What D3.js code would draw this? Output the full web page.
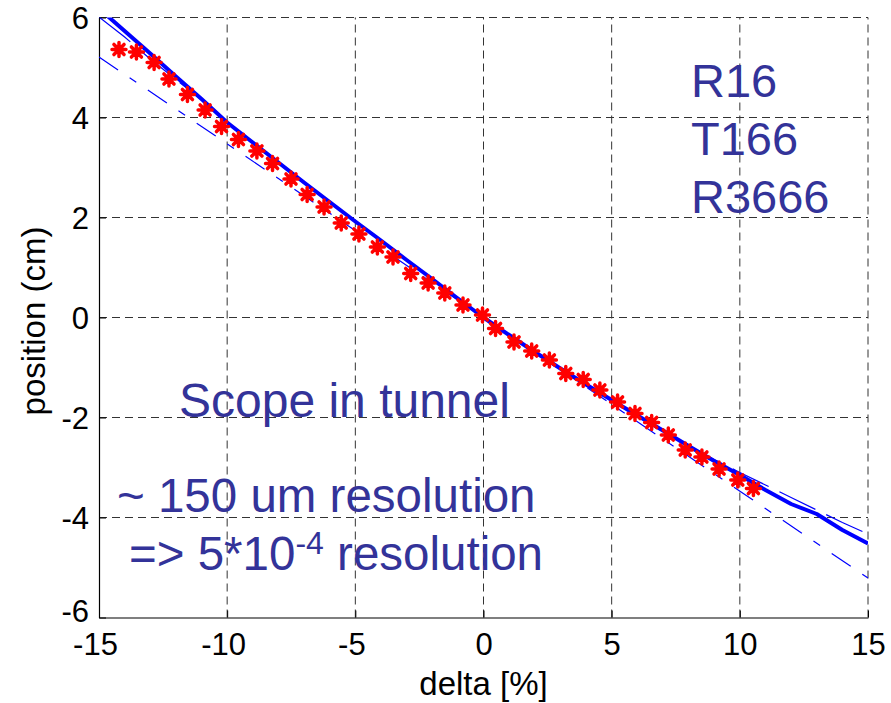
<!DOCTYPE html>
<html>
<head>
<meta charset="utf-8">
<script src="https://cdn.jsdelivr.net/npm/d3@7"></script>
<style>
  html, body { margin: 0; padding: 0; background: #fff; }
  svg text { font-family: Arial, "Liberation Sans", sans-serif; }
</style>
</head>
<body>
<svg id="chart" width="891" height="703"></svg>
<script>
// Measured beam position on the scope versus momentum offset
const deltaMeas = [-14.22,-13.54,-12.85,-12.27,-11.55,-10.86,-10.22,-9.56,-8.84,-8.23,-7.51,-6.88,-6.22,-5.55,-4.86,-4.14,-3.53,-2.84,-2.16,-1.51,-0.80,-0.04,0.47,1.19,1.88,2.57,3.21,3.89,4.54,5.23,5.91,6.56,7.21,7.87,8.52,9.19,9.92,10.53];
const posMeas   = [5.36,5.31,5.10,4.77,4.46,4.15,3.82,3.56,3.33,3.08,2.77,2.46,2.21,1.89,1.67,1.41,1.21,0.88,0.69,0.49,0.25,0.05,-0.22,-0.49,-0.67,-0.85,-1.12,-1.24,-1.45,-1.69,-1.92,-2.10,-2.35,-2.65,-2.79,-3.03,-3.25,-3.42];

// Model curves sampled on a common delta grid
const deltaGrid = [-15,-14,-13,-12,-11,-10,-9,-8,-7,-6,-5,-4,-3,-2,-1,0,1,2,3,4,5,6,7,8,9,10,11,12,13,14,15];
const posModel  = [6.18,5.73,5.28,4.82,4.37,3.90,3.50,3.10,2.70,2.31,1.92,1.54,1.15,0.77,0.38,0,-0.35,-0.69,-1.02,-1.34,-1.65,-1.96,-2.26,-2.57,-2.87,-3.15,-3.45,-3.73,-3.93,-4.25,-4.52];
const posModel2 = [6.01,5.61,5.17,4.76,4.35,3.90,3.49,3.09,2.69,2.30,1.91,1.53,1.14,0.76,0.37,0,-0.36,-0.70,-1.03,-1.35,-1.67,-1.97,-2.27,-2.56,-2.84,-3.10,-3.35,-3.60,-3.85,-4.10,-4.33];

// Linear dispersion line
const deltaLin = [-15, 15];
const posLin   = [5.21, -5.21];

const xTicks = [-15,-10,-5,0,5,10,15];
const yTicks = [-6,-4,-2,0,2,4,6];

const notesRight = ["R16", "T166", "R3666"];
const noteScope = "Scope in tunnel";
const noteRes1 = "~ 150 um resolution";

const svg = d3.select("#chart");
const x = d3.scaleLinear().domain([-15, 15]).range([99, 868]);
const y = d3.scaleLinear().domain([-6, 6]).range([617.5, 17.5]);

svg.append("rect").attr("width", 891).attr("height", 703).attr("fill", "#fff");

svg.append("clipPath").attr("id", "plotclip")
  .append("rect").attr("x", x(-15)).attr("y", y(6))
  .attr("width", x(15) - x(-15)).attr("height", y(-6) - y(6));

// grid
const grid = svg.append("g");
grid.selectAll("line.gx").data(xTicks.slice(1)).join("line")
  .attr("x1", d => x(d)).attr("x2", d => x(d))
  .attr("y1", y(-6)).attr("y2", y(6))
  .attr("stroke", "#333").attr("stroke-width", 1).attr("stroke-dasharray", "8,5");
grid.selectAll("line.gy").data(yTicks.slice(1)).join("line")
  .attr("y1", d => y(d)).attr("y2", d => y(d))
  .attr("x1", x(-15)).attr("x2", x(15))
  .attr("stroke", "#333").attr("stroke-width", 1).attr("stroke-dasharray", "8,5");

// axes
const xAxis = d3.axisBottom(x).tickValues(xTicks).tickSizeInner(-7).tickSizeOuter(0)
  .tickFormat(d => d).tickPadding(15);
const yAxis = d3.axisLeft(y).tickValues(yTicks).tickSizeInner(-7).tickSizeOuter(0)
  .tickFormat(d => d).tickPadding(10);

const gx = svg.append("g").attr("transform", `translate(0,${y(-6)})`).call(xAxis);
const gy = svg.append("g").attr("transform", `translate(${x(-15)},0)`).call(yAxis);
[gx, gy].forEach(g => {
  g.select(".domain").attr("stroke", "#000").attr("stroke-width", 1.2);
  g.selectAll(".tick line").attr("stroke", "#000");
  g.selectAll(".tick text").attr("fill", "#000")
    .style("font-family", "Arial, 'Liberation Sans', sans-serif").style("font-size", "31px");
});
gx.selectAll(".tick text").attr("dy", "0.71em").attr("dx", d => d < 0 ? -4 : 0);
gy.selectAll(".tick text").attr("dy", d => d === -6 ? "0.12em" : "0.35em");

// curves
const plot = svg.append("g").attr("clip-path", "url(#plotclip)");
const line = d3.line().x(d => x(d[0])).y(d => y(d[1]));

plot.append("path")
  .datum(deltaLin.map((d, i) => [d, posLin[i]]))
  .attr("d", line).attr("fill", "none").attr("stroke", "#0000ff")
  .attr("stroke-width", 1.2).attr("stroke-dasharray", "23,14,8,14");

plot.append("path")
  .datum(deltaGrid.map((d, i) => [d, posModel2[i]]))
  .attr("d", line).attr("fill", "none").attr("stroke", "#0000ff")
  .attr("stroke-width", 1.2).attr("stroke-dasharray", "40,12");

plot.append("path")
  .datum(deltaGrid.map((d, i) => [d, posModel[i]]))
  .attr("d", line).attr("fill", "none").attr("stroke", "#0000ff")
  .attr("stroke-width", 4).attr("stroke-linejoin", "round");

// asterisk markers
const r = 7;
const star = `M${-r},0L${r},0M0,${-r}L0,${r}` +
  `M${-r*0.72},${-r*0.72}L${r*0.72},${r*0.72}M${-r*0.72},${r*0.72}L${r*0.72},${-r*0.72}`;
svg.append("g").selectAll("path").data(deltaMeas.map((d, i) => [d, posMeas[i]])).join("path")
  .attr("transform", d => `translate(${x(d[0])},${y(d[1])})`)
  .attr("d", star).attr("stroke", "#ff0000").attr("stroke-width", 3.5)
  .attr("stroke-linecap", "round").attr("fill", "none");

// axis titles
svg.append("text").attr("x", x(0)).attr("y", 695).attr("text-anchor", "middle")
  .style("font-size", "33px").attr("fill", "#000").text("delta [%]");
svg.append("text").attr("transform", `translate(45,321) rotate(-90)`)
  .attr("text-anchor", "middle").style("font-size", "33px").attr("fill", "#000")
  .text("position (cm)");

// annotations
const noteColor = "#333399";
svg.append("g").selectAll("text").data(notesRight).join("text")
  .attr("x", 691).attr("y", (d, i) => 96.5 + i * 58.3)
  .style("font-size", "47px").attr("fill", noteColor).text(d => d);

svg.append("text").attr("x", 179).attr("y", 416.5)
  .style("font-size", "48px").attr("fill", noteColor).text(noteScope);
svg.append("text").attr("x", 117).attr("y", 511.5)
  .style("font-size", "47.5px").attr("fill", noteColor).text(noteRes1);

const res2 = svg.append("text").attr("x", 129).attr("y", 570)
  .style("font-size", "47.5px").attr("fill", noteColor);
res2.append("tspan").text("=> 5*10");
res2.append("tspan").attr("dy", -16).style("font-size", "32px").text("-4");
res2.append("tspan").attr("dy", 16).text(" resolution");
</script>
</body>
</html>
